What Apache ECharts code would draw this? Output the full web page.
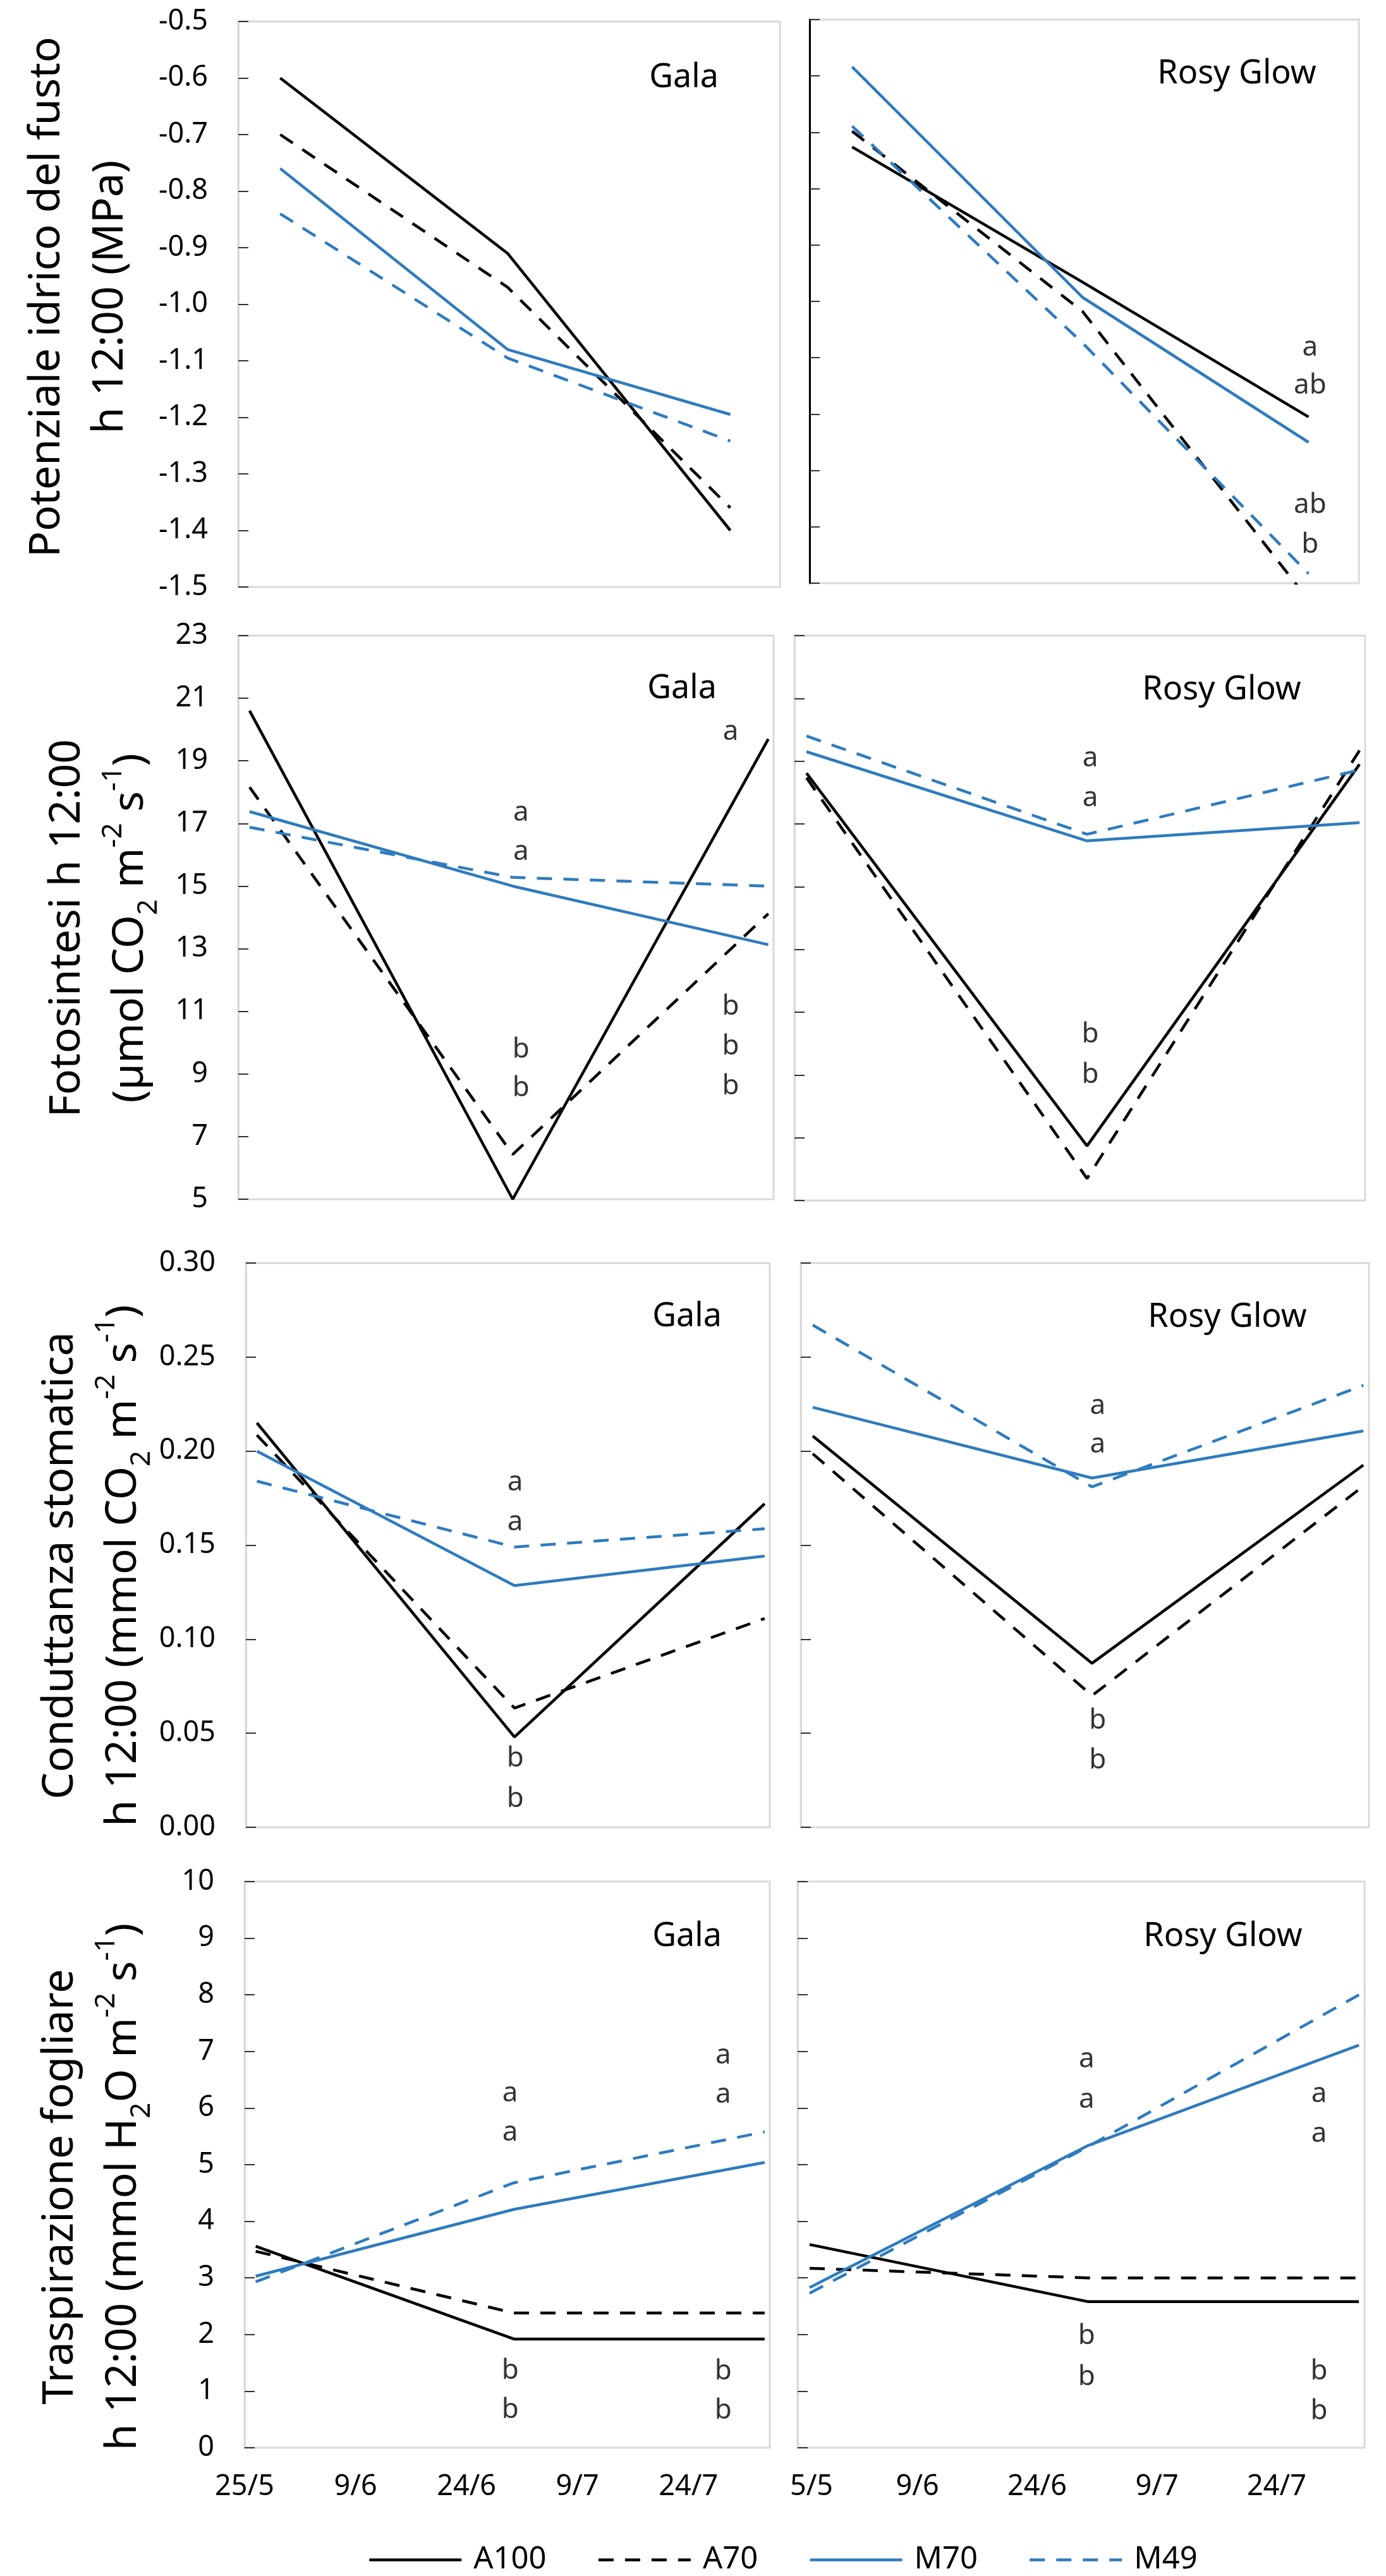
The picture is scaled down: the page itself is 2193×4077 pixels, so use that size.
<!DOCTYPE html>
<html><head><meta charset="utf-8">
<script src="https://cdn.jsdelivr.net/npm/echarts@6/dist/echarts.min.js"></script>
<style>html,body{margin:0;padding:0;background:#fff}#c{width:2193px;height:4077px}</style>
</head><body><div id="c"></div>
<script>
// ---------------- DATA ----------------
const seriesNames = ['A100', 'A70', 'M70', 'M49'];
const cultivars = ['Gala', 'Rosy Glow'];
const xTickLabelsGala = ['25/5', '9/6', '24/6', '9/7', '24/7'];
const xTickLabelsRosy = ['5/5', '9/6', '24/6', '9/7', '24/7'];
// measurement days (days after 25/5)
const daysRow1 = [5.5, 35.3, 64.5];
const daysRows = [1.5, 36.4, 70.3];

// Potenziale idrico del fusto (MPa)
const potGalaA100 = [-0.60, -0.91, -1.40];
const potGalaA70  = [-0.70, -0.97, -1.36];
const potGalaM70  = [-0.76, -1.08, -1.195];
const potGalaM49  = [-0.84, -1.095, -1.242];
const potRosyA100 = [-0.726, -0.966, -1.205];
const potRosyA70  = [-0.698, -1.018, -1.53];
const potRosyM70  = [-0.584, -0.993, -1.25];
const potRosyM49  = [-0.689, -1.074, -1.483];

// Fotosintesi
const fotGalaA100 = [20.6, 5.0, 19.7];
const fotGalaA70  = [18.16, 6.43, 14.12];
const fotGalaM70  = [17.38, 15.0, 13.13];
const fotGalaM49  = [16.88, 15.28, 15.0];
const fotRosyA100 = [18.62, 6.74, 18.9];
const fotRosyA70  = [18.47, 5.7, 19.34];
const fotRosyM70  = [19.3, 16.46, 17.04];
const fotRosyM49  = [19.8, 16.67, 18.72];

// Conduttanza stomatica
const conGalaA100 = [0.215, 0.048, 0.172];
const conGalaA70  = [0.2085, 0.0634, 0.111];
const conGalaM70  = [0.200, 0.1285, 0.1442];
const conGalaM49  = [0.184, 0.149, 0.1587];
const conRosyA100 = [0.208, 0.0872, 0.1926];
const conRosyA70  = [0.1986, 0.070, 0.1814];
const conRosyM70  = [0.2233, 0.1857, 0.2107];
const conRosyM49  = [0.267, 0.181, 0.235];

// Traspirazione fogliare
const traGalaA100 = [3.56, 1.92, 1.92];
const traGalaA70  = [3.47, 2.38, 2.38];
const traGalaM70  = [3.03, 4.21, 5.04];
const traGalaM49  = [2.93, 4.68, 5.58];
const traRosyA100 = [3.59, 2.58, 2.58];
const traRosyA70  = [3.17, 3.0, 3.0];
const traRosyM70  = [2.83, 5.34, 7.11];
const traRosyM49  = [2.73, 5.32, 8.0];

// significance letters [day, value, text]
const lettersPotGala = [];
const lettersPotRosy = [[64.7, -1.082, 'a'], [64.7, -1.150, 'ab'], [64.7, -1.361, 'ab'], [64.7, -1.432, 'b']];
const lettersFotGala = [[37.5, 17.35, 'a'], [37.5, 16.09, 'a'], [37.5, 9.78, 'b'], [37.5, 8.54, 'b'],
                        [65.3, 19.93, 'a'], [65.3, 11.15, 'b'], [65.3, 9.87, 'b'], [65.3, 8.6, 'b']];
const lettersFotRosy = [[36.8, 19.09, 'a'], [36.8, 17.82, 'a'], [36.8, 10.28, 'b'], [36.8, 9.0, 'b']];
const lettersConGala = [[36.5, 0.1833, 'a'], [36.5, 0.162, 'a'], [36.5, 0.0364, 'b'], [36.5, 0.0149, 'b']];
const lettersConRosy = [[37.1, 0.224, 'a'], [37.1, 0.2033, 'a'], [37.1, 0.0566, 'b'], [37.1, 0.0355, 'b']];
const lettersTraGala = [[35.9, 6.26, 'a'], [35.9, 5.56, 'a'], [35.9, 1.36, 'b'], [35.9, 0.66, 'b'],
                        [64.7, 6.93, 'a'], [64.7, 6.23, 'a'], [64.7, 1.35, 'b'], [64.7, 0.65, 'b']];
const lettersTraRosy = [[36.2, 6.86, 'a'], [36.2, 6.14, 'a'], [36.2, 1.97, 'b'], [36.2, 1.25, 'b'],
                        [65.3, 6.25, 'a'], [65.3, 5.54, 'a'], [65.3, 1.35, 'b'], [65.3, 0.64, 'b']];

// y-axis tick settings per row
const yMin = [-1.5, 5, 0, 0];
const yMax = [-0.5, 23, 0.30, 10];
const yStep = [0.1, 2, 0.05, 1];
const yDecimals = [1, 0, 2, 0];

// ---------------- LAYOUT / STYLE ----------------
const FONT = "'Noto Sans', 'DejaVu Sans', sans-serif";
const BLUE = '#2E7BBF';
const DASH = [24, 18];
const layout = [
  {l: 377, t: 34, w: 857, h: 895}, {l: 1281, t: 31, w: 869, h: 892},
  {l: 377, t: 1006, w: 847, h: 892}, {l: 1257, t: 1006, w: 903, h: 894},
  {l: 389, t: 1999, w: 829, h: 893}, {l: 1267, t: 1999, w: 899, h: 893},
  {l: 387, t: 2978, w: 831, h: 896}, {l: 1262, t: 2978, w: 897, h: 896}
];
const panelData = [
  [potGalaA100, potGalaA70, potGalaM70, potGalaM49], [potRosyA100, potRosyA70, potRosyM70, potRosyM49],
  [fotGalaA100, fotGalaA70, fotGalaM70, fotGalaM49], [fotRosyA100, fotRosyA70, fotRosyM70, fotRosyM49],
  [conGalaA100, conGalaA70, conGalaM70, conGalaM49], [conRosyA100, conRosyA70, conRosyM70, conRosyM49],
  [traGalaA100, traGalaA70, traGalaM70, traGalaM49], [traRosyA100, traRosyA70, traRosyM70, traRosyM49]
];
const panelLetters = [lettersPotGala, lettersPotRosy, lettersFotGala, lettersFotRosy,
                      lettersConGala, lettersConRosy, lettersTraGala, lettersTraRosy];
const titlePos = [[1082, 123], [1957, 117], [1079, 1090], [1933, 1092],
                  [1087, 2084], [1942, 2085], [1087, 3065], [1935, 3065]];
const lineStyles = [
  {color: '#000', type: 'solid'}, {color: '#000', type: DASH},
  {color: BLUE, type: 'solid'}, {color: BLUE, type: DASH}
];

const grids = [], xAxes = [], yAxes = [], series = [], graphics = [];
for (let i = 0; i < 8; i++) {
  const row = Math.floor(i / 2), col = i % 2;
  const L = layout[i];
  grids.push({left: L.l, top: L.t, width: L.w, height: L.h, show: true,
    borderColor: '#d9d9d9', borderWidth: 3, backgroundColor: 'transparent'});
  const tickLabels = col === 0 ? xTickLabelsGala : xTickLabelsRosy;
  xAxes.push({type: 'value', gridIndex: i, min: 0, max: 71, interval: 15,
    axisLine: {show: false}, axisTick: {show: false}, splitLine: {show: false},
    axisLabel: {show: row === 3, margin: 40, fontSize: 45, fontFamily: FONT, color: '#000',
      showMaxLabel: false,
      formatter: function (v) {
        const k = Math.round(v / 15);
        if (Math.abs(v - k * 15) > 0.01 || k >= tickLabels.length) return '';
        if (col === 1 && k === 0) return '{s|' + tickLabels[k] + '}';
        return tickLabels[k];
      },
      rich: {s: {padding: [0, 0, 0, 44], fontSize: 45, fontFamily: FONT, color: '#000'}}
    }});
  const dec = yDecimals[row];
  yAxes.push({type: 'value', gridIndex: i, min: yMin[row], max: yMax[row], interval: yStep[row],
    axisLine: {show: true, onZero: false, lineStyle: {color: (i === 1 ? '#000' : '#d9d9d9'), width: 3}},
    axisTick: {show: true, inside: true, length: 16, lineStyle: {color: '#333', width: 2}},
    splitLine: {show: false},
    axisLabel: {show: col === 0, margin: 48, fontSize: 45, fontFamily: FONT, color: '#000',
      formatter: v => v.toFixed(dec)}
  });
  const days = row === 0 ? daysRow1 : daysRows;
  panelData[i].forEach((vals, s) => {
    series.push({type: 'line', name: seriesNames[s], xAxisIndex: i, yAxisIndex: i,
      data: vals.map((v, k) => [days[k], v]), symbol: 'none', showSymbol: false,
      lineStyle: {color: lineStyles[s].color, type: lineStyles[s].type, width: 4.5},
      itemStyle: {color: lineStyles[s].color}, clip: true, silent: true, z: 3});
  });
  if (panelLetters[i].length) {
    series.push({type: 'scatter', name: 'letters' + i, xAxisIndex: i, yAxisIndex: i,
      data: panelLetters[i].map(d => [d[0], d[1], d[2]]), symbolSize: 1,
      itemStyle: {color: 'rgba(0,0,0,0)'}, silent: true, z: 4,
      label: {show: true, position: 'inside', formatter: p => p.data[2],
        fontSize: 44, fontFamily: FONT, color: '#000'}});
  }
  graphics.push({type: 'text', x: titlePos[i][0], y: titlePos[i][1], silent: true,
    style: {text: cultivars[col], fontSize: 52, fontFamily: FONT, fill: '#000',
      align: 'center', verticalAlign: 'middle'}});
}

const richY = {
  sub: {fontSize: 44, fontFamily: FONT, lineHeight: 60, verticalAlign: 'bottom', fill: '#000'},
  sup: {fontSize: 44, fontFamily: FONT, lineHeight: 56, verticalAlign: 'top', fill: '#000'}
};
const yTitles = [
  [125, 470, 'Potenziale idrico del fusto', 'h 12:00 (MPa)'],
  [157, 1469, 'Fotosintesi h 12:00', '(µmol CO{sub|2} m{sup|-2} s{sup|-1})'],
  [146, 2478, 'Conduttanza stomatica', 'h 12:00 (mmol CO{sub|2} m{sup|-2} s{sup|-1})'],
  [146, 3461, 'Traspirazione fogliare', 'h 12:00 (mmol H{sub|2}O m{sup|-2} s{sup|-1})']
];
yTitles.forEach(t => {
  graphics.push({type: 'text', x: t[0], y: t[1], rotation: Math.PI / 2, silent: true,
    style: {text: t[2] + '\n' + t[3], fontSize: 68, fontFamily: FONT, lineHeight: 100, fill: '#000',
      align: 'center', verticalAlign: 'middle', rich: richY}});
});

const chart = echarts.init(document.getElementById('c'), null, {renderer: 'canvas'});
chart.setOption({
  animation: false,
  backgroundColor: '#fff',
  grid: grids, xAxis: xAxes, yAxis: yAxes, series: series,
  legend: {data: seriesNames, left: 577, top: 4022, itemWidth: 146, itemHeight: 24, itemGap: 80,
    itemStyle: {opacity: 0, borderWidth: 0},
    lineStyle: {width: 4.5},
    textStyle: {fontSize: 49, fontFamily: FONT, color: '#000', padding: [0, 0, 0, 14]},
    selectedMode: false},
  graphic: graphics
});
</script></body></html>
